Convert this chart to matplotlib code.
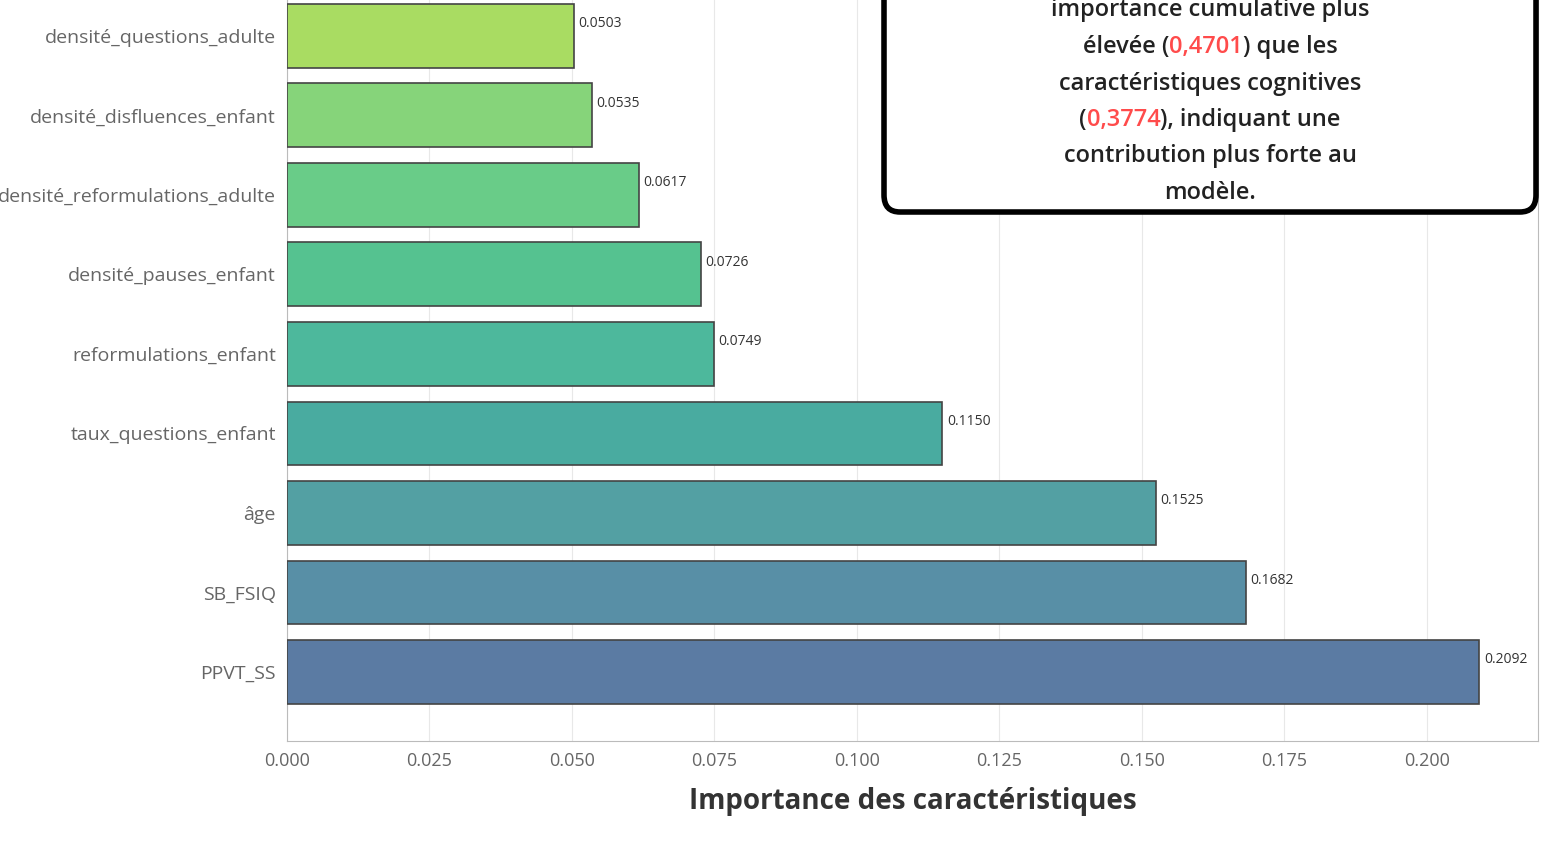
import matplotlib.pyplot as plt
from matplotlib.offsetbox import TextArea, HPacker, VPacker, AnnotationBbox, DrawingArea

plt.rcParams['font.family'] = ['Open Sans', 'DejaVu Sans']

# features, bottom to top
features = ['PPVT_SS', 'SB_FSIQ', 'âge', 'taux_questions_enfant',
            'reformulations_enfant', 'densité_pauses_enfant',
            'densité_reformulations_adulte', 'densité_disfluences_enfant',
            'densité_questions_adulte']
importance = [0.2092, 0.1682, 0.1525, 0.1150, 0.0749, 0.0726, 0.0617, 0.0535, 0.0503]
colors = ['#5b7ba3', '#588fa6', '#53a0a3', '#49aba0', '#4db89c', '#55c290',
          '#69cc88', '#86d47a', '#a9dc62']
xticks = [0.000, 0.025, 0.050, 0.075, 0.100, 0.125, 0.150, 0.175, 0.200]

fig = plt.figure(figsize=(15.63, 8.55), dpi=100)
ax = fig.add_axes([287/1563, 1 - 741/855, (1538 - 287)/1563, 741/855])

ypos = list(range(len(features)))
ax.barh(ypos, importance, height=0.8, color=colors, edgecolor='#444444', linewidth=1.2, zorder=3)
for y, v in zip(ypos, importance):
    ax.text(v + 0.0008, y + 0.15, f'{v:.4f}', fontsize=10, color='#333333', va='center', ha='left', zorder=4)

ax.set_xlim(0, 0.2195)
ax.set_ylim(-0.87, 8.45)
ax.set_yticks(ypos)
ax.set_yticklabels(features, fontsize=14, color='#666666')
ax.set_xticks(xticks)
ax.set_xticklabels([f'{t:.3f}' for t in xticks], fontsize=13, color='#666666')
ax.tick_params(length=0, pad=8)
ax.grid(axis='x', color='#e8e8e8', linewidth=0.8, zorder=0)
ax.spines['top'].set_visible(False)
for s in ['left', 'bottom', 'right']:
    ax.spines[s].set_color('#bbbbbb')
ax.set_xlabel('Importance des caractéristiques', fontsize=20, fontweight='bold', color='#333333', labelpad=12)

# annotation box (top is cut off by the figure edge, as in the reference)
red = '#ff4b4b'
black = '#222222'
lines = [
    [('importance cumulative plus', black)],
    [('élevée (', black), ('0,4701', red), (') que les', black)],
    [('caractéristiques cognitives', black)],
    [('(', black), ('0,3774', red), ('), indiquant une', black)],
    [('contribution plus forte au', black)],
    [('modèle.', black)],
]
rows = [DrawingArea(460, 0)]
for parts in lines:
    areas = [TextArea(t, textprops=dict(fontsize=17, fontweight='semibold', color=c)) for t, c in parts]
    rows.append(HPacker(children=areas, align='baseline', pad=0, sep=0))
box = VPacker(children=rows, align='center', pad=0, sep=9)
ab = AnnotationBbox(box, (1210/1563, 1 - 205/855), xycoords='figure fraction',
                    box_alignment=(0.5, 0.0), frameon=True, pad=0.4,
                    bboxprops=dict(boxstyle='round,pad=0.5,rounding_size=1.2',
                                   facecolor='white', edgecolor='black', linewidth=4))
fig.add_artist(ab)

fig.savefig('out.png', dpi=100)
